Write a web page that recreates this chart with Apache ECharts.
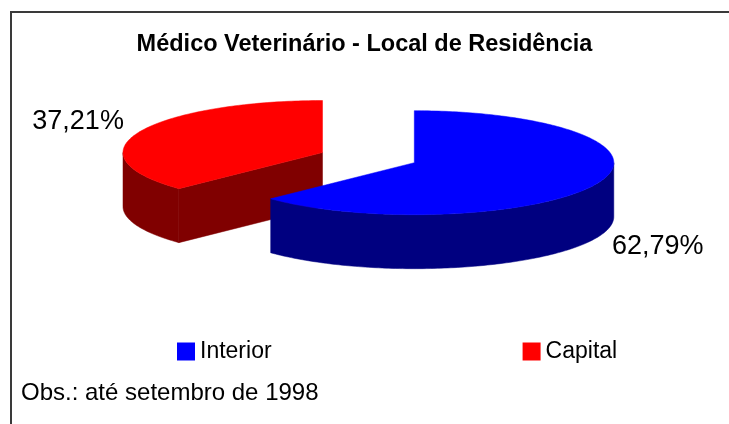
<!DOCTYPE html>
<html>
<head>
<meta charset="utf-8">
<script src="https://cdn.jsdelivr.net/npm/echarts@6/dist/echarts.min.js"></script>
<style>
  html, body { margin: 0; padding: 0; background: #fff; }
  #chart { width: 729px; height: 424px; }
</style>
</head>
<body>
<div id="chart"></div>
<script>
// ---- data ----
const categories = ['Interior', 'Capital'];
const values = [62.79, 37.21];
const valueLabels = ['62,79%', '37,21%'];
const titleText = 'Médico Veterinário - Local de Residência';
const noteText = 'Obs.: até setembro de 1998';

// ---- style ----
const topColors = ['#0000FF', '#FF0000'];
const sideColors = ['#000080', '#800000'];
const explodeFrac = [0, 0.5];
const FONT = '"Liberation Sans", Arial, sans-serif';
const PIE = { cx: 414.3, cy: 162.7, rx: 199.5, ry: 52, depth: 54 };

const total = values.reduce((a, b) => a + b, 0);

function pt(cx, cy, deg, dy) {
  const r = deg * Math.PI / 180;
  return [cx + PIE.rx * Math.sin(r), cy - PIE.ry * Math.cos(r) + (dy || 0)];
}
function arc(cx, cy, a, b, dy) {
  const pts = [];
  const n = Math.max(2, Math.ceil(Math.abs(b - a)));
  for (let k = 0; k <= n; k++) pts.push(pt(cx, cy, a + (b - a) * k / n, dy));
  return pts;
}

function makeRender(ci) {
  return function (params, api) {
    const v = api.value(0);
    let start = 0;
    for (let j = 0; j < ci; j++) start += values[j] / total * 360;
    const end = start + v / total * 360;
    const mid = (start + end) / 2;
    const mr = mid * Math.PI / 180;
    const ex = explodeFrac[ci];
    const cx = PIE.cx + ex * PIE.rx * Math.sin(mr);
    const cy = PIE.cy - ex * PIE.ry * Math.cos(mr);
    const D = PIE.depth;
    const side = sideColors[ci], top = topColors[ci];
    const children = [];
    const face = (ang) => ({
      type: 'polygon',
      shape: { points: [[cx, cy], pt(cx, cy, ang), pt(cx, cy, ang, D), [cx, cy + D]] },
      style: { fill: side, stroke: side, lineWidth: 0.5 }
    });
    if (Math.cos((start - 90) * Math.PI / 180) < -1e-6) children.push(face(start));
    if (Math.cos((end + 90) * Math.PI / 180) < -1e-6) children.push(face(end));
    const s = Math.max(start, 90), e = Math.min(end, 270);
    if (e > s) {
      const pts = arc(cx, cy, s, e, 0).concat(arc(cx, cy, e, s, D));
      children.push({ type: 'polygon', shape: { points: pts }, style: { fill: side, stroke: side, lineWidth: 0.5 } });
    }
    children.push({
      type: 'polygon',
      shape: { points: [[cx, cy]].concat(arc(cx, cy, start, end, 0)) },
      style: { fill: top, stroke: top, lineWidth: 0.5 }
    });
    // label
    const rp = pt(cx, cy, mid);
    const right = Math.sin(mr) > 0;
    const front = Math.cos(mr) < 0;
    children.push({
      type: 'text',
      x: rp[0] + (right ? 14 : -15),
      y: front ? rp[1] + D - 4 : rp[1] + 3,
      style: {
        text: valueLabels[ci],
        font: '27px ' + FONT,
        fill: '#000',
        align: right ? 'left' : 'right',
        verticalAlign: front ? 'top' : 'bottom'
      }
    });
    return { type: 'group', children: children };
  };
}

const series = [];
// draw Capital first so Interior sits on top
[1, 0].forEach(ci => {
  series.push({
    type: 'custom',
    name: categories[ci],
    coordinateSystem: 'none',
    z: ci === 0 ? 3 : 2,
    itemStyle: { color: topColors[ci] },
    data: [[values[ci]]],
    renderItem: makeRender(ci),
    silent: true
  });
});

const chart = echarts.init(document.getElementById('chart'), null, { renderer: 'canvas' });
chart.setOption({
  animation: false,
  backgroundColor: '#ffffff',
  title: {
    text: titleText,
    left: 'center',
    top: 32.5,
    padding: 0,
    textStyle: { fontFamily: FONT, fontSize: 23.5, fontWeight: 'bold', color: '#000' }
  },
  legend: {
    data: categories,
    left: 177,
    top: 340,
    padding: 0,
    itemWidth: 18,
    itemHeight: 18,
    itemGap: 251,
    icon: 'rect',
    selectedMode: false,
    textStyle: { fontFamily: FONT, fontSize: 23, color: '#000' }
  },
  graphic: [
    {
      type: 'rect',
      shape: { x: 11, y: 12, width: 760, height: 460 },
      style: { fill: 'none', stroke: '#3a3a3a', lineWidth: 2 },
      silent: true
    },
    {
      type: 'text',
      x: 21,
      y: 393.5,
      style: { text: noteText, font: '24px ' + FONT, fill: '#000', verticalAlign: 'middle' },
      silent: true
    }
  ],
  series: series
});
</script>
</body>
</html>
